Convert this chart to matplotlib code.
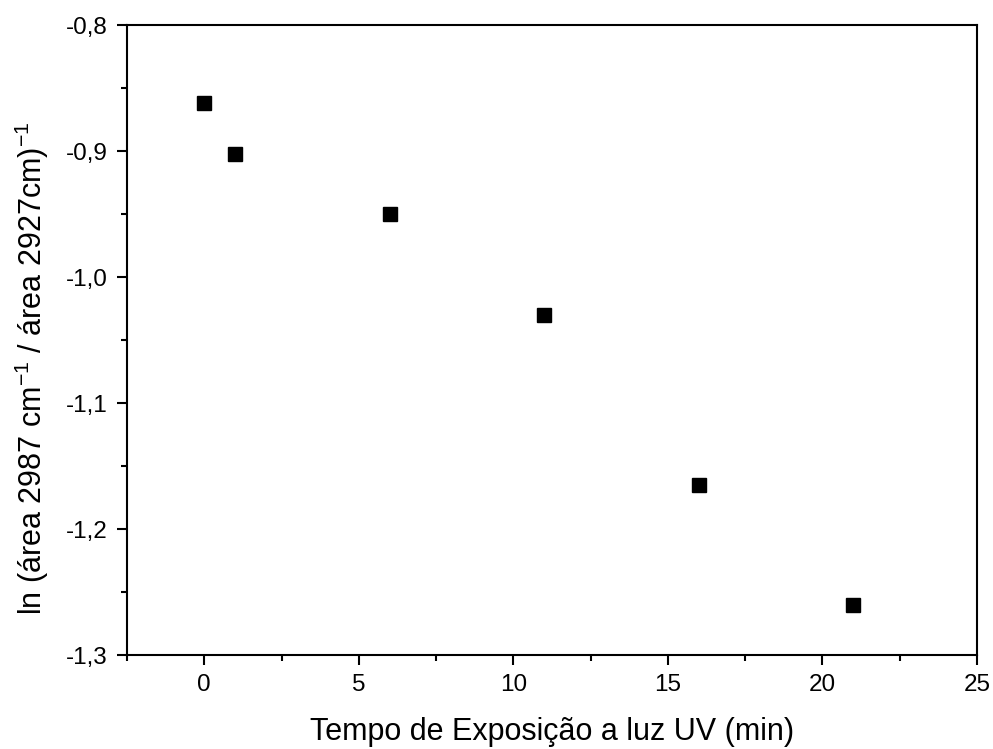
#!/usr/bin/env python3

import matplotlib
matplotlib.use('Agg')
import matplotlib.pyplot as plt
from matplotlib.ticker import MultipleLocator, FuncFormatter

plt.rcParams['font.family'] = 'Liberation Sans'
plt.rcParams['mathtext.fontset'] = 'custom'
plt.rcParams['mathtext.rm'] = 'Liberation Sans'
plt.rcParams['mathtext.it'] = 'Liberation Sans'

# tempo de exposicao (min) vs ln da razao de areas
tempo = [0, 1, 6, 11, 16, 21]
ln_razao = [-0.862, -0.902, -0.950, -1.030, -1.165, -1.260]

fig = plt.figure(figsize=(9.93, 7.49), dpi=100)
ax = fig.add_axes([0.1279, 0.1255, 0.856, 0.8411])

ax.plot(tempo, ln_razao, 's', color='black', markersize=10, linestyle='none')

ax.set_xlim(-2.5, 25)
ax.set_ylim(-1.3, -0.8)
ax.xaxis.set_major_locator(MultipleLocator(5))
ax.xaxis.set_minor_locator(MultipleLocator(2.5))
ax.yaxis.set_major_locator(MultipleLocator(0.1))
ax.yaxis.set_minor_locator(MultipleLocator(0.05))
ax.yaxis.set_major_formatter(FuncFormatter(lambda v, p: ('%.1f' % v).replace('.', ',')))

for s in ax.spines.values():
    s.set_linewidth(1.5)
ax.tick_params(which='both', direction='out', width=1.5, labelsize=17.5, pad=7)
ax.tick_params(which='major', length=7)
ax.tick_params(which='minor', length=4)

ax.set_xlabel('Tempo de Exposição a luz UV (min)', fontsize=22, labelpad=15)
ax.set_ylabel('ln (área 2987 cm$^{-1}$ / área 2927cm)$^{-1}$', fontsize=22)
ax.yaxis.set_label_coords(-0.090, 0.455)

fig.savefig('out.png', dpi=100)
